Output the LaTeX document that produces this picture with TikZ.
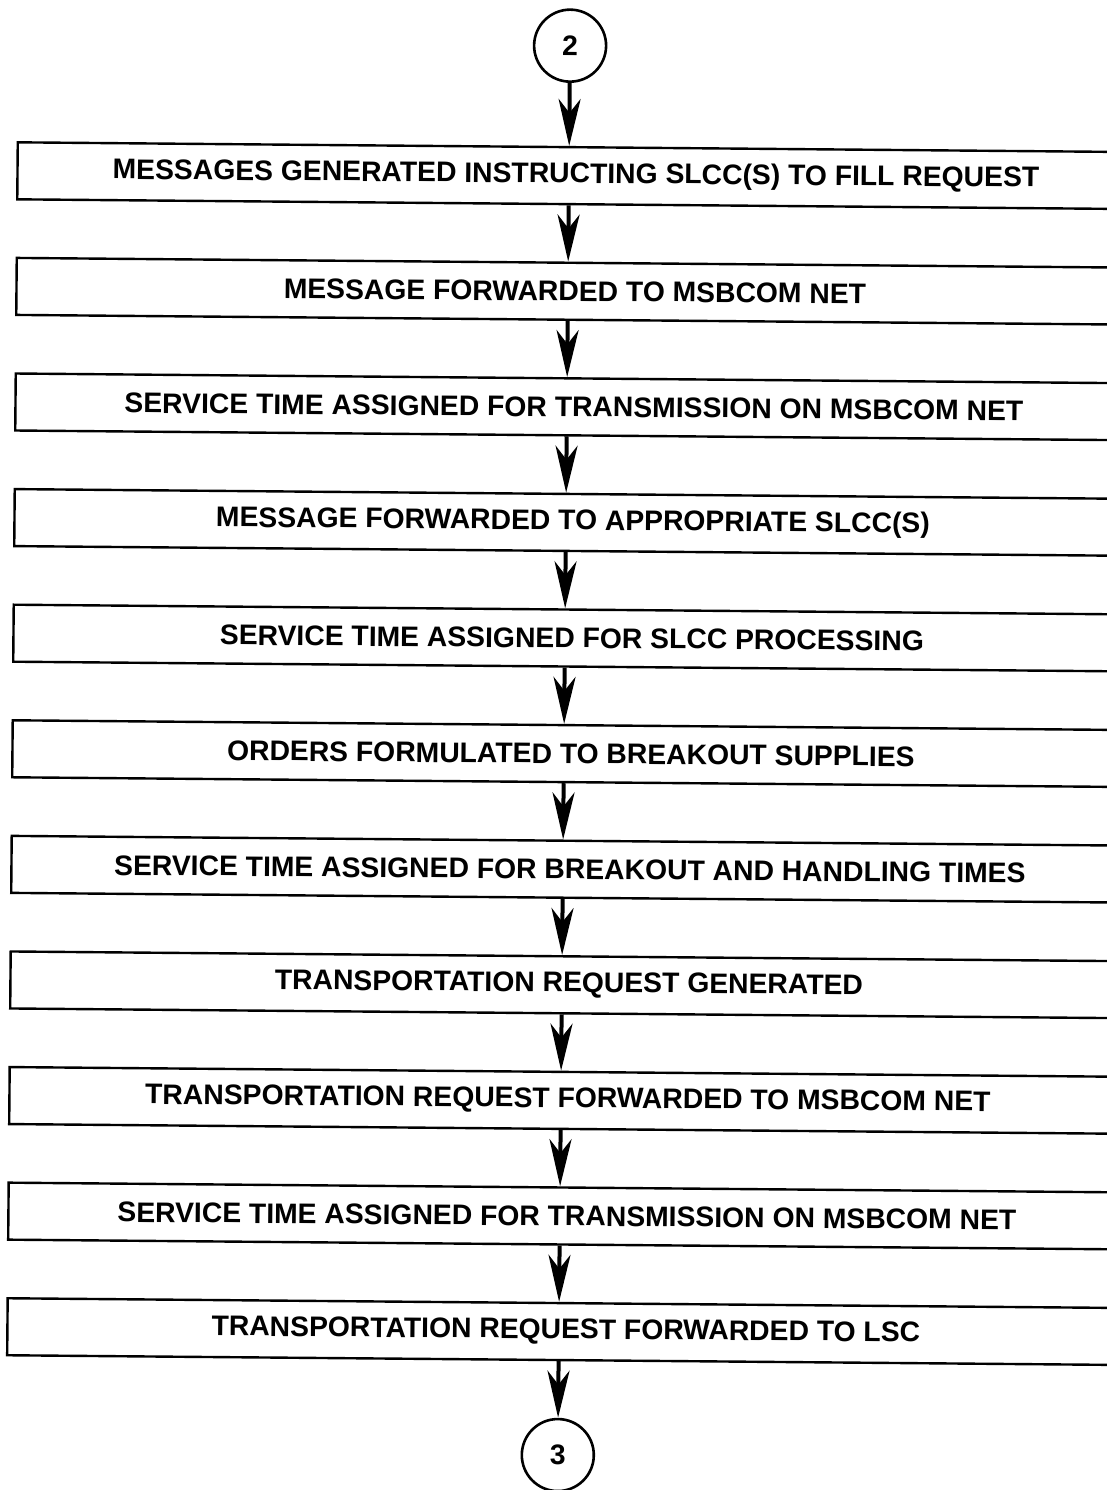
\documentclass[tikz,border=0pt]{standalone}
\usepackage{fontspec}
\setmainfont{Liberation Sans}
\usetikzlibrary{arrows.meta}
\begin{document}
\begin{tikzpicture}[x=1pt,y=-1pt,
  stepbox/.style={draw, line width=2.4pt, minimum width=1117pt, minimum height=57pt,
    inner sep=0pt, font=\fontsize{28.3}{34}\selectfont\bfseries},
  conn/.style={draw, circle, line width=2.6pt, minimum size=72pt, inner sep=0pt,
    font=\fontsize{28.3}{34}\selectfont\bfseries},
  arr/.style={line width=4pt, -{Stealth[length=47pt,width=22pt,inset=14pt]}}]
\useasboundingbox (0,0) rectangle (1107,1490);
\begin{scope}[rotate around={-0.5:(553,745)}, transform shape]
\node[conn] (c2) at (564,45.5) {2};
\node[stepbox] (b1) at (571,175.5) {MESSAGES GENERATED INSTRUCTING SLCC(S) TO FILL REQUEST};
\node[stepbox] (b2) at (571,291.1) {MESSAGE FORWARDED TO MSBCOM NET};
\node[stepbox] (b3) at (571,406.7) {SERVICE TIME ASSIGNED FOR TRANSMISSION ON MSBCOM NET};
\node[stepbox] (b4) at (571,522.3) {MESSAGE FORWARDED TO APPROPRIATE SLCC(S)};
\node[stepbox] (b5) at (571,637.9) {SERVICE TIME ASSIGNED FOR SLCC PROCESSING};
\node[stepbox] (b6) at (571,753.5) {ORDERS FORMULATED TO BREAKOUT SUPPLIES};
\node[stepbox] (b7) at (571,869.1) {SERVICE TIME ASSIGNED FOR BREAKOUT AND HANDLING TIMES};
\node[stepbox] (b8) at (571,984.7) {TRANSPORTATION REQUEST GENERATED};
\node[stepbox] (b9) at (571,1100.3) {TRANSPORTATION REQUEST FORWARDED TO MSBCOM NET};
\node[stepbox] (b10) at (571,1215.9) {SERVICE TIME ASSIGNED FOR TRANSMISSION ON MSBCOM NET};
\node[stepbox] (b11) at (571,1331.5) {TRANSPORTATION REQUEST FORWARDED TO LSC};
\node[conn] (c3) at (564,1455) {3};
\draw[arr] (c2.south) -- (c2.south |- b1.north);
\foreach \a/\b in {b1/b2,b2/b3,b3/b4,b4/b5,b5/b6,b6/b7,b7/b8,b8/b9,b9/b10,b10/b11}
  \draw[arr] (\a.south -| c2.south) -- (\b.north -| c2.south);
\draw[arr] (b11.south -| c3.north) -- (c3.north);
\end{scope}
\end{tikzpicture}
\end{document}
